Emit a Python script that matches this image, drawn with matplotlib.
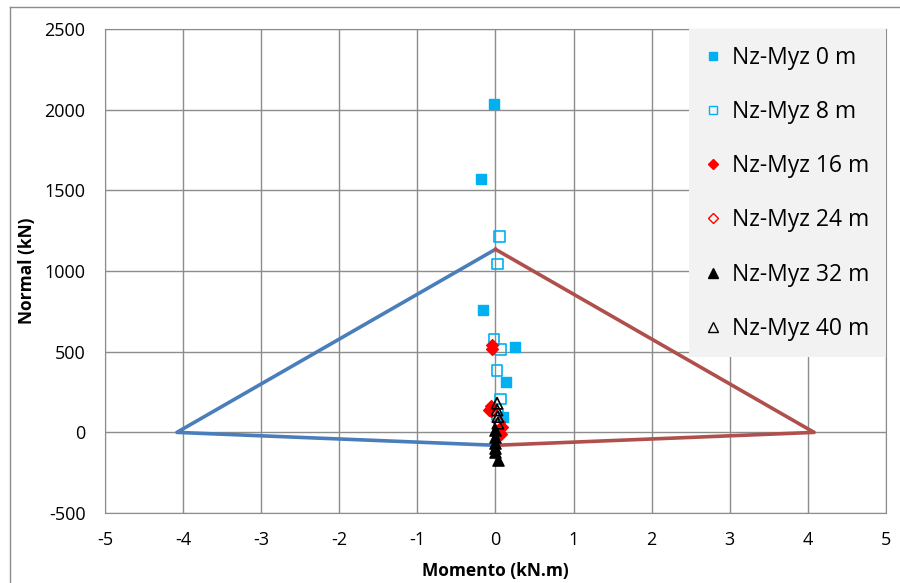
import matplotlib.pyplot as plt
from matplotlib.lines import Line2D

plt.rcParams['font.family'] = ['Open Sans', 'DejaVu Sans']
plt.rcParams['axes.unicode_minus'] = False

# envelope (Momento, Normal)
env_left_x = [0.0, -4.08, 0.0]
env_left_y = [-80, 0, 1135]
env_right_x = [0.0, 4.08, 0.0]
env_right_y = [1135, 0, -80]

# scatter series
m0_x = [-0.02, -0.18, -0.16, 0.25, 0.13, 0.09]
m0_y = [2035, 1569, 759, 532, 315, 95]
m8_x = [0.05, 0.03, -0.02, 0.06, 0.02, 0.06, 0.03]
m8_y = [1213, 1044, 577, 515, 383, 207, 110]
m16_x = [-0.04, -0.05, -0.06, -0.08, 0.08, 0.07]
m16_y = [542, 515, 165, 140, 36, -12]
m24_x = [-0.05, 0.05, 0.06]
m24_y = [130, 60, 20]
m32_x = [0.0, -0.01, -0.01, -0.01, 0.0, 0.03]
m32_y = [15, -26, -67, -98, -120, -170]
m40_x = [0.02, 0.02, 0.03, 0.03]
m40_y = [181, 139, 98, 57]

labels = ['Nz-Myz 0 m', 'Nz-Myz 8 m', 'Nz-Myz 16 m',
          'Nz-Myz 24 m', 'Nz-Myz 32 m', 'Nz-Myz 40 m']

cyan = '#00B0F0'
red = '#FF0000'

fig = plt.figure(figsize=(9, 5.83), dpi=100)
ax = fig.add_axes([0.1167, 0.12, 0.8677, 0.830])

ax.plot(env_left_x, env_left_y, color='#4A7EBB', lw=2.6, zorder=2)
ax.plot(env_right_x, env_right_y, color='#B0504C', lw=2.6, zorder=2)

ax.scatter(m0_x, m0_y, marker='s', s=60, color=cyan, zorder=3, label=labels[0])
ax.scatter(m8_x, m8_y, marker='s', s=60, facecolor='none', edgecolor=cyan,
           linewidths=1.2, zorder=3, label=labels[1])
ax.scatter(m16_x, m16_y, marker='D', s=36, color=red, zorder=3, label=labels[2])
ax.scatter(m24_x, m24_y, marker='D', s=36, facecolor='none', edgecolor=red,
           linewidths=1.2, zorder=3, label=labels[3])
ax.scatter(m32_x, m32_y, marker='^', s=65, color='black', zorder=4, label=labels[4])
ax.scatter(m40_x, m40_y, marker='^', s=65, facecolor='none', edgecolor='black',
           linewidths=1.2, zorder=4, label=labels[5])

ax.set_xlim(-5, 5)
ax.set_ylim(-500, 2500)
ax.set_xticks(range(-5, 6))
ax.set_yticks(range(-500, 2501, 500))
ax.grid(True, color='#8C8C8C', lw=1)
ax.set_axisbelow(True)
for s in ax.spines.values():
    s.set_color('#8C8C8C')
ax.tick_params(length=0, labelsize=13, pad=13, colors='black')
ax.tick_params(axis='y', pad=14)

ax.set_xlabel('Momento (kN.m)', fontsize=12.5, fontweight='bold', labelpad=9)
ax.set_ylabel('Normal (kN)', fontsize=12.5, fontweight='bold', labelpad=6)

handles = [
    Line2D([], [], ls='none', marker='s', ms=6, color=cyan),
    Line2D([], [], ls='none', marker='s', ms=6, mfc='none', mec=cyan),
    Line2D([], [], ls='none', marker='D', ms=5.5, color=red),
    Line2D([], [], ls='none', marker='D', ms=5.5, mfc='none', mec=red),
    Line2D([], [], ls='none', marker='^', ms=6.5, color='black'),
    Line2D([], [], ls='none', marker='^', ms=6.5, mfc='none', mec='black'),
]
leg = ax.legend(handles, labels, loc='upper right', bbox_to_anchor=(1.0, 1.0),
                fontsize=16.5, frameon=True, fancybox=False, borderaxespad=0,
                labelspacing=1.32, handlelength=0.6, handletextpad=0.55,
                borderpad=0.72)
leg.get_frame().set_facecolor('#F2F2F2')
leg.get_frame().set_edgecolor('none')
leg.get_frame().set_alpha(1)

# outer chart border
fig.add_artist(Line2D([10 / 900, 1], [1 - 7 / 583, 1 - 7 / 583], color='#8C8C8C', lw=1))
fig.add_artist(Line2D([10 / 900, 10 / 900], [0, 1 - 7 / 583], color='#8C8C8C', lw=1))

fig.savefig('out.png', dpi=100)
